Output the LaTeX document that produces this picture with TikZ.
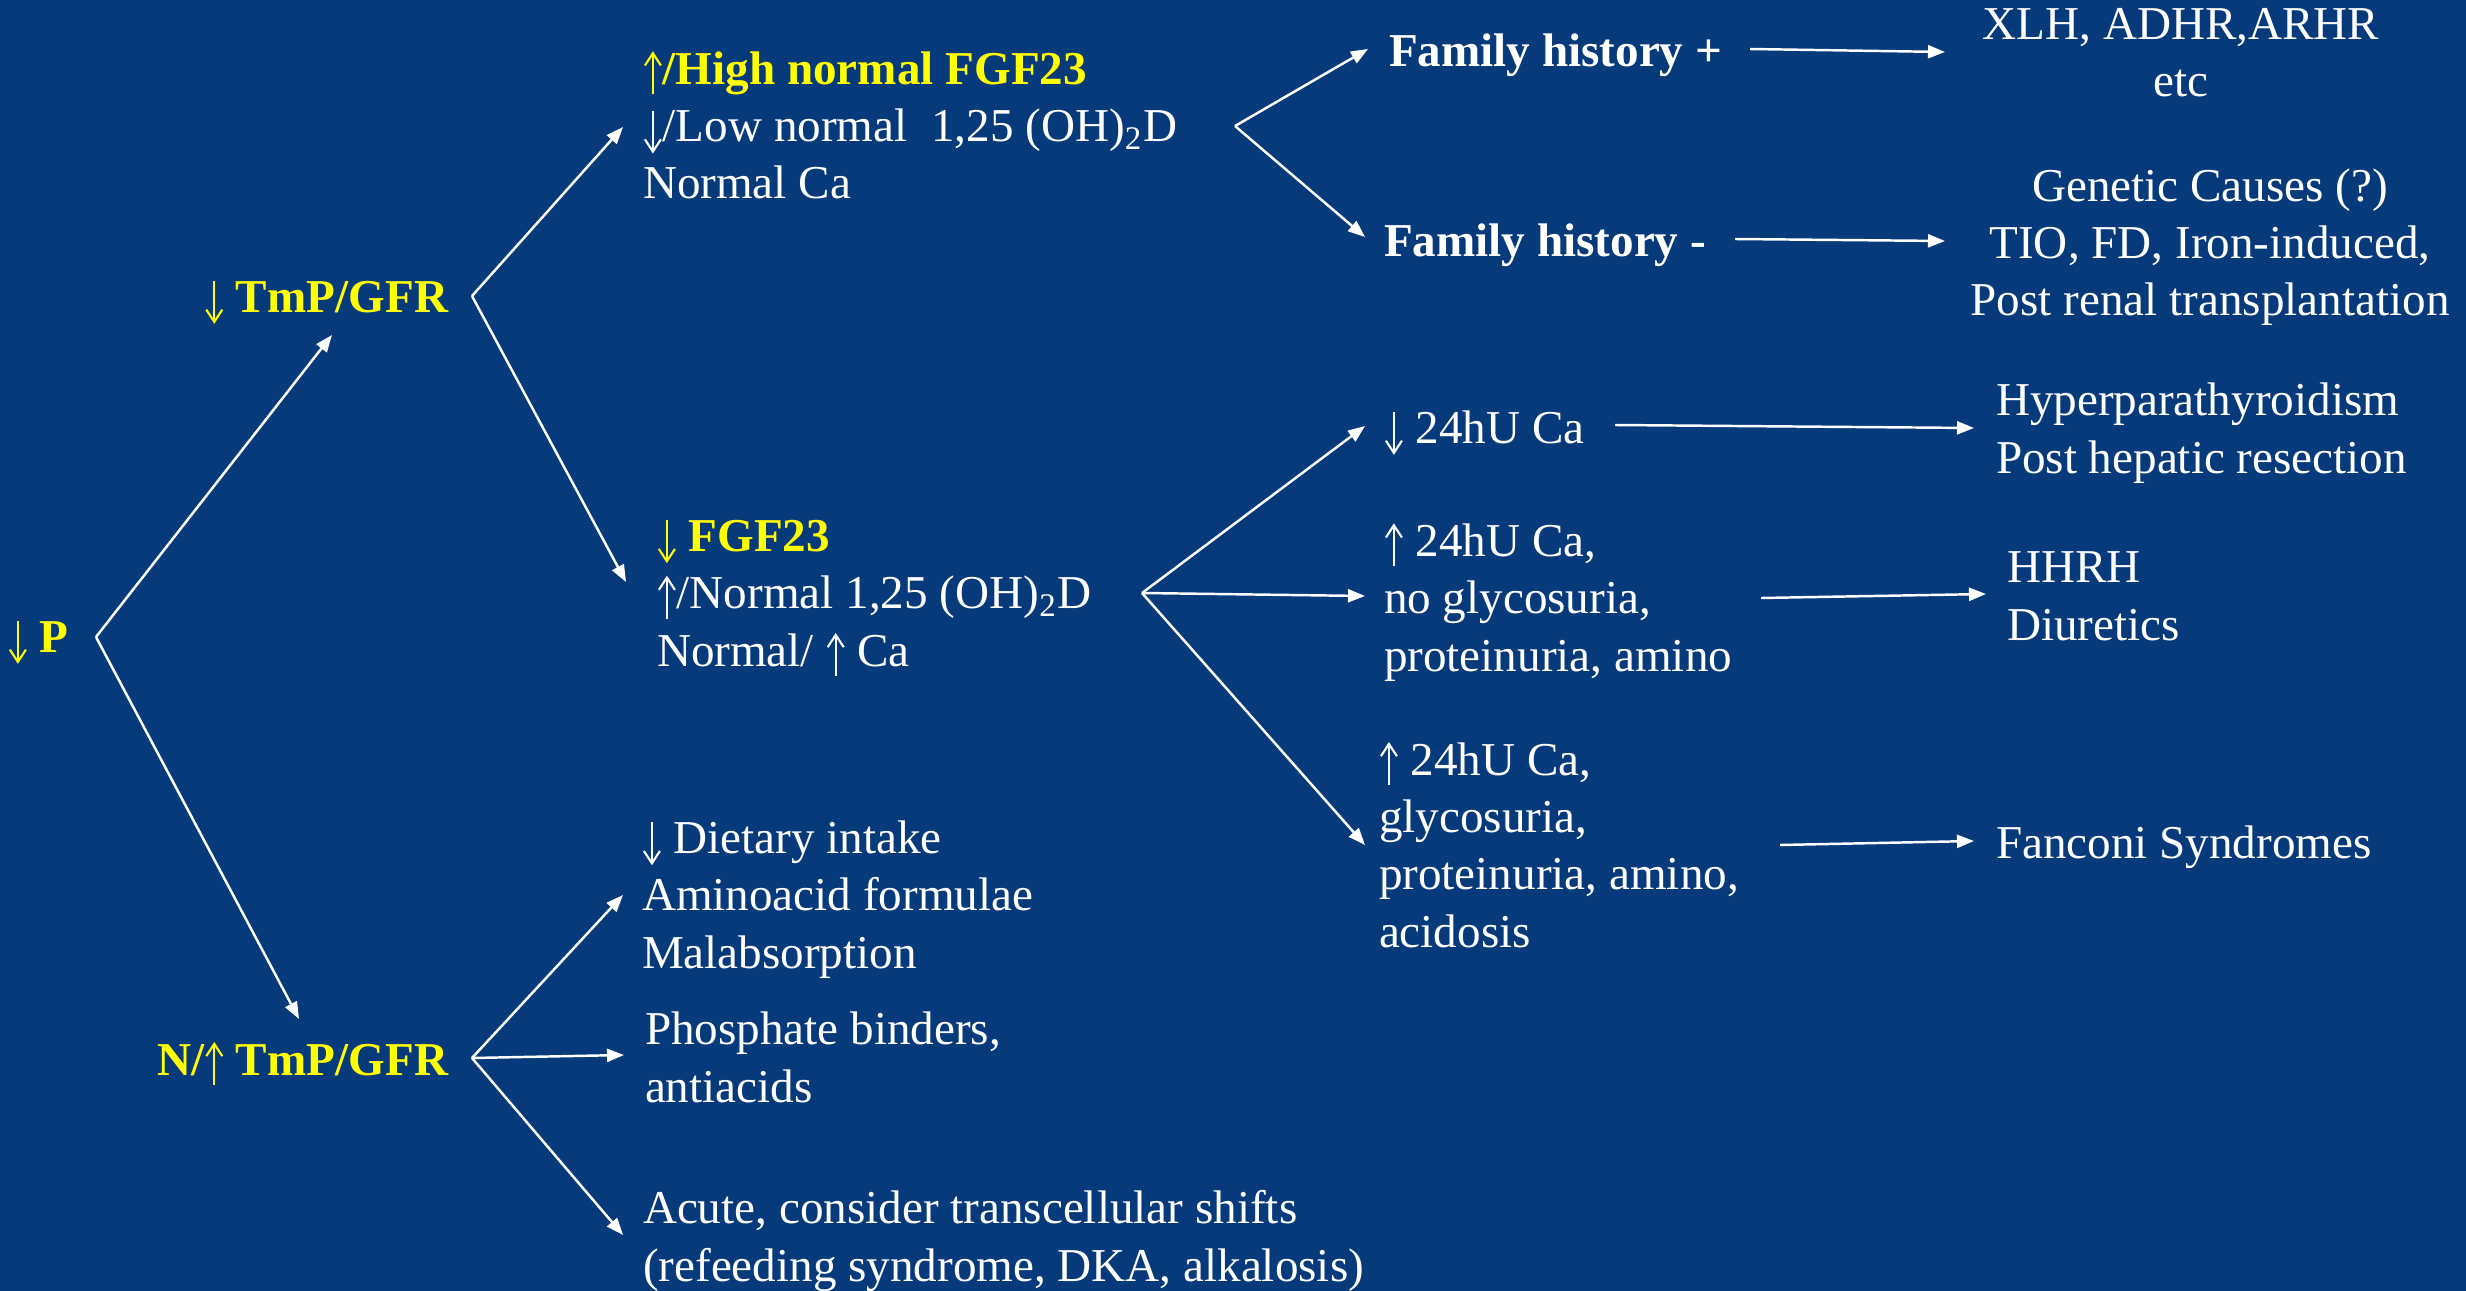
\documentclass[tikz,border=0pt]{standalone}
\usepackage{fontspec}
\setmainfont{Liberation Serif}
\usetikzlibrary{arrows.meta}
\definecolor{bg}{RGB}{7,58,122}
\definecolor{yel}{RGB}{255,255,0}
\newcommand\mydn{\tikz[baseline=0pt, x=1em, y=1em]{%
  \useasboundingbox (-0.02,-0.22) rectangle (0.40,0.66);
  \draw[color=., line width=0.045em] (0.19,0.66) -- (0.19,-0.21);
  \draw[color=., line width=0.045em, line join=miter] (0.02,0.05) -- (0.19,-0.21) -- (0.36,0.05);}}
\newcommand\myup{\tikz[baseline=0pt, x=1em, y=1em]{%
  \useasboundingbox (-0.02,-0.22) rectangle (0.40,0.68);
  \draw[color=., line width=0.045em] (0.19,-0.21) -- (0.19,0.66);
  \draw[color=., line width=0.045em, line join=miter] (0.02,0.40) -- (0.19,0.66) -- (0.36,0.40);}}
\tikzset{
  txt/.style={inner sep=0pt, outer sep=0pt, text=white, align=left, font=\fontsize{13.4pt}{16.3pt}\selectfont},
  ctxt/.style={txt, align=center},
  ybold/.style={txt, text=yel, font=\fontsize{13.4pt}{16.3pt}\selectfont\bfseries},
  wbold/.style={txt, font=\fontsize{13.4pt}{16.3pt}\selectfont\bfseries},
  arr/.style={color=white, line width=0.7pt, line join=miter, -{Triangle[length=0.17cm,width=0.13cm,fill=white]}}
}
\begin{document}
\begin{tikzpicture}[x=0.01cm, y=-0.01cm]
\fill[bg] (0,0) rectangle (2466,1291);
\useasboundingbox (0,0) rectangle (2466,1291);

% nodes (multi-line nodes anchored at the baseline of their last line)
\node[ybold, anchor=base west] (P) at (8,652) {\mydn\ P};
\node[ybold, anchor=base east] (T1) at (448,312) {\mydn\ TmP/GFR};
\node[ybold, anchor=base east] (T2) at (448,1075) {N/\myup\ TmP/GFR};

\node[txt, anchor=base west] (G1) at (643,199) {\textcolor{yel}{\bfseries \myup/High normal FGF23}\\\mydn/Low normal\ \ 1,25 (OH)\textsubscript{2}D\\Normal Ca};
\node[txt, anchor=base west] (G2) at (657,666) {\textcolor{yel}{\bfseries \mydn\ FGF23}\\\myup/Normal 1,25 (OH)\textsubscript{2}D\\Normal/ \myup\ Ca};
\node[txt, anchor=base west] (G3) at (642,968) {\mydn\ Dietary intake\\Aminoacid formulae\\Malabsorption};
\node[txt, anchor=base west] (G4) at (645,1102) {Phosphate binders,\\antiacids};
\node[txt, anchor=base west] (G5) at (643,1281) {Acute, consider transcellular shifts\\(refeeding syndrome, DKA, alkalosis)};

\node[wbold, anchor=base west] (FHp) at (1389,67) {Family history +};
\node[wbold, anchor=base west] (FHm) at (1384,257) {Family history -};
\node[ctxt, anchor=base] (XLH) at (2181,97) {XLH, ADHR,ARHR\\etc};
\node[ctxt, anchor=base] (GEN) at (2210,316) {Genetic Causes (?)\\TIO, FD, Iron-induced,\\Post renal transplantation};

\node[txt, anchor=base west] (C1) at (1384,443) {\mydn\ 24hU Ca};
\node[txt, anchor=base west] (C2) at (1384,671) {\myup\ 24hU Ca,\\no glycosuria,\\proteinuria, amino};
\node[txt, anchor=base west] (C3) at (1379,947) {\myup\ 24hU Ca,\\glycosuria,\\proteinuria, amino,\\acidosis};

\node[txt, anchor=base west] (HYP) at (1996,473) {Hyperparathyroidism\\Post hepatic resection};
\node[txt, anchor=base west] (HH) at (2007,640) {HHRH\\Diuretics};
\node[txt, anchor=base west] (FAN) at (1996,858) {Fanconi Syndromes};

% fork points and arrow ends
\coordinate (fP) at (96,637);
\coordinate (eT1) at (332,335);
\coordinate (eT2) at (299,1019);
\coordinate (fT1) at (472,296);
\coordinate (eG1) at (623,127);
\coordinate (eG2) at (626,582);
\coordinate (fT2) at (472,1058);
\coordinate (eG3) at (623,895);
\coordinate (eG4) at (624,1055);
\coordinate (eG5) at (623,1235);
\coordinate (fG1) at (1235,126);
\coordinate (eFHp) at (1368,49);
\coordinate (eFHm) at (1365,237);
\coordinate (sFHp) at (1750,49);
\coordinate (eXLH) at (1945,52);
\coordinate (sFHm) at (1735,239);
\coordinate (eGEN) at (1945,241);
\coordinate (fG2) at (1142,593);
\coordinate (eC1) at (1365,426);
\coordinate (eC2) at (1365,596);
\coordinate (eC3) at (1365,845);
\coordinate (sC1) at (1615,425);
\coordinate (eHYP) at (1974,428);
\coordinate (sC2) at (1761,598);
\coordinate (eHH) at (1986,594);
\coordinate (sC3) at (1780,845);
\coordinate (eFAN) at (1974,841);

% connectors
\draw[arr] (fP) -- (eT1);
\draw[arr] (fP) -- (eT2);
\draw[arr] (fT1) -- (eG1);
\draw[arr] (fT1) -- (eG2);
\draw[arr] (fT2) -- (eG3);
\draw[arr] (fT2) -- (eG4);
\draw[arr] (fT2) -- (eG5);
\draw[arr] (fG1) -- (eFHp);
\draw[arr] (fG1) -- (eFHm);
\draw[arr] (sFHp) -- (eXLH);
\draw[arr] (sFHm) -- (eGEN);
\draw[arr] (fG2) -- (eC1);
\draw[arr] (fG2) -- (eC2);
\draw[arr] (fG2) -- (eC3);
\draw[arr] (sC1) -- (eHYP);
\draw[arr] (sC2) -- (eHH);
\draw[arr] (sC3) -- (eFAN);
\end{tikzpicture}
\end{document}
